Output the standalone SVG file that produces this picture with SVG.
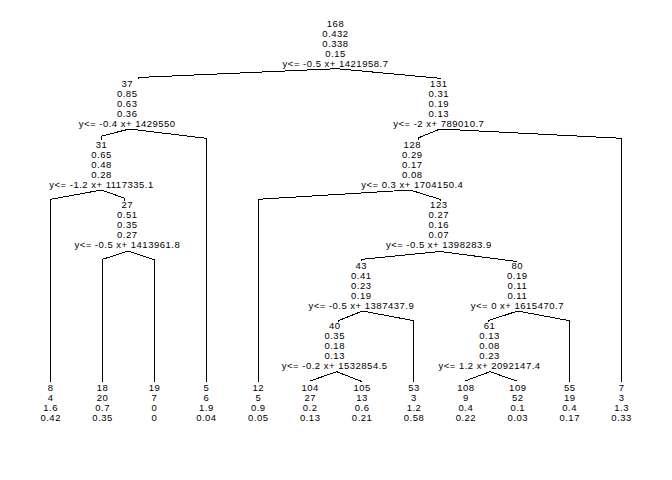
<svg xmlns="http://www.w3.org/2000/svg" width="672" height="480" viewBox="0 0 672 480">
<style>
text{font-family:"Liberation Sans",Arial,sans-serif;font-size:9.5px;letter-spacing:0.5px;fill:#000;text-anchor:middle}
.c polyline{fill:none;stroke:#000;stroke-width:1;shape-rendering:crispEdges}
</style>
<rect width="672" height="480" fill="#fff"/>
<g class="c" id="connectors">
<polyline points="337,68.7 138,77.5 138,79.3"/>
<polyline points="337,68.7 440,78.3 440,79.3"/>
<polyline points="129.5,129 101.7,136 101.7,140"/>
<polyline points="129.5,129 206,138.3 206,381.7"/>
<polyline points="440,129 418,138 418,140"/>
<polyline points="440,129 621.5,138.3 621.5,381.7"/>
<polyline points="101.5,190 50.7,199.3 50.7,381.7"/>
<polyline points="101.5,190 124,198 124,200.5"/>
<polyline points="410,190 258.3,199.3 258.3,381.7"/>
<polyline points="410,190 440,199.3 440,200.5"/>
<polyline points="128.3,251 102.5,259.3 102.5,381.7"/>
<polyline points="128.3,251 154.5,260 154.5,381.7"/>
<polyline points="440,251.5 361.7,259.3 361.7,261"/>
<polyline points="440,251.5 516.7,261.5 516.7,262"/>
<polyline points="362.5,311 338.3,320.7 338.3,321.5"/>
<polyline points="362.5,311 413.7,320.7 413.7,381.7"/>
<polyline points="517.7,311 488,320.7 488,321.5"/>
<polyline points="517.7,311 569.3,320.7 569.3,381.7"/>
<polyline points="336.7,371.7 310,381"/>
<polyline points="336.7,371.7 361.7,381.5"/>
<polyline points="490,371.7 465,381"/>
<polyline points="490,371.7 516.7,381"/>
</g>
<g id="n168"><text x="335.5" y="26.7">168</text><text x="335.5" y="36.7">0.432</text><text x="335.5" y="46.7">0.338</text><text x="335.5" y="56.7">0.15</text><text x="335.5" y="66.7">y&lt;= -0.5 x+ 1421958.7</text></g>
<g id="n37"><text x="127.2" y="87.3">37</text><text x="127.2" y="97.3">0.85</text><text x="127.2" y="107.3">0.63</text><text x="127.2" y="117.3">0.36</text><text x="127.2" y="127.3">y&lt;= -0.4 x+ 1429550</text></g>
<g id="n131"><text x="438.8" y="87.3">131</text><text x="438.8" y="97.3">0.31</text><text x="438.8" y="107.3">0.19</text><text x="438.8" y="117.3">0.13</text><text x="438.8" y="127.3">y&lt;= -2 x+ 789010.7</text></g>
<g id="n31"><text x="101.5" y="148.3">31</text><text x="101.5" y="158.3">0.65</text><text x="101.5" y="168.3">0.48</text><text x="101.5" y="178.3">0.28</text><text x="101.5" y="188.3">y&lt;= -1.2 x+ 1117335.1</text></g>
<g id="n128"><text x="412.3" y="148.3">128</text><text x="412.3" y="158.3">0.29</text><text x="412.3" y="168.3">0.17</text><text x="412.3" y="178.3">0.08</text><text x="412.3" y="188.3">y&lt;= 0.3 x+ 1704150.4</text></g>
<g id="n27"><text x="127.3" y="208.3">27</text><text x="127.3" y="218.3">0.51</text><text x="127.3" y="228.3">0.35</text><text x="127.3" y="238.3">0.27</text><text x="127.3" y="248.3">y&lt;= -0.5 x+ 1413961.8</text></g>
<g id="n123"><text x="438.8" y="208.3">123</text><text x="438.8" y="218.3">0.27</text><text x="438.8" y="228.3">0.16</text><text x="438.8" y="238.3">0.07</text><text x="438.8" y="248.3">y&lt;= -0.5 x+ 1398283.9</text></g>
<g id="n43"><text x="361.3" y="269.3">43</text><text x="361.3" y="279.3">0.41</text><text x="361.3" y="289.3">0.23</text><text x="361.3" y="299.3">0.19</text><text x="361.3" y="309.3">y&lt;= -0.5 x+ 1387437.9</text></g>
<g id="n80"><text x="517.3" y="269.3">80</text><text x="517.3" y="279.3">0.19</text><text x="517.3" y="289.3">0.11</text><text x="517.3" y="299.3">0.11</text><text x="517.3" y="309.3">y&lt;= 0 x+ 1615470.7</text></g>
<g id="n40"><text x="334.7" y="329.3">40</text><text x="334.7" y="339.3">0.35</text><text x="334.7" y="349.3">0.18</text><text x="334.7" y="359.3">0.13</text><text x="334.7" y="369.3">y&lt;= -0.2 x+ 1532854.5</text></g>
<g id="n61"><text x="489.5" y="329.3">61</text><text x="489.5" y="339.3">0.13</text><text x="489.5" y="349.3">0.08</text><text x="489.5" y="359.3">0.23</text><text x="489.5" y="369.3">y&lt;= 1.2 x+ 2092147.4</text></g>
<g id="n8"><text x="50.7" y="390.7">8</text><text x="50.7" y="400.7">4</text><text x="50.7" y="410.7">1.6</text><text x="50.7" y="420.7">0.42</text></g>
<g id="n18"><text x="102.6" y="390.7">18</text><text x="102.6" y="400.7">20</text><text x="102.6" y="410.7">0.7</text><text x="102.6" y="420.7">0.35</text></g>
<g id="n19"><text x="154.5" y="390.7">19</text><text x="154.5" y="400.7">7</text><text x="154.5" y="410.7">0</text><text x="154.5" y="420.7">0</text></g>
<g id="n5"><text x="206.4" y="390.7">5</text><text x="206.4" y="400.7">6</text><text x="206.4" y="410.7">1.9</text><text x="206.4" y="420.7">0.04</text></g>
<g id="n12"><text x="258.3" y="390.7">12</text><text x="258.3" y="400.7">5</text><text x="258.3" y="410.7">0.9</text><text x="258.3" y="420.7">0.05</text></g>
<g id="n104"><text x="310.2" y="390.7">104</text><text x="310.2" y="400.7">27</text><text x="310.2" y="410.7">0.2</text><text x="310.2" y="420.7">0.13</text></g>
<g id="n105"><text x="362.1" y="390.7">105</text><text x="362.1" y="400.7">13</text><text x="362.1" y="410.7">0.6</text><text x="362.1" y="420.7">0.21</text></g>
<g id="n53"><text x="414" y="390.7">53</text><text x="414" y="400.7">3</text><text x="414" y="410.7">1.2</text><text x="414" y="420.7">0.58</text></g>
<g id="n108"><text x="465.9" y="390.7">108</text><text x="465.9" y="400.7">9</text><text x="465.9" y="410.7">0.4</text><text x="465.9" y="420.7">0.22</text></g>
<g id="n109"><text x="517.8" y="390.7">109</text><text x="517.8" y="400.7">52</text><text x="517.8" y="410.7">0.1</text><text x="517.8" y="420.7">0.03</text></g>
<g id="n55"><text x="569.7" y="390.7">55</text><text x="569.7" y="400.7">19</text><text x="569.7" y="410.7">0.4</text><text x="569.7" y="420.7">0.17</text></g>
<g id="n7"><text x="621.6" y="390.7">7</text><text x="621.6" y="400.7">3</text><text x="621.6" y="410.7">1.3</text><text x="621.6" y="420.7">0.33</text></g>
</svg>
